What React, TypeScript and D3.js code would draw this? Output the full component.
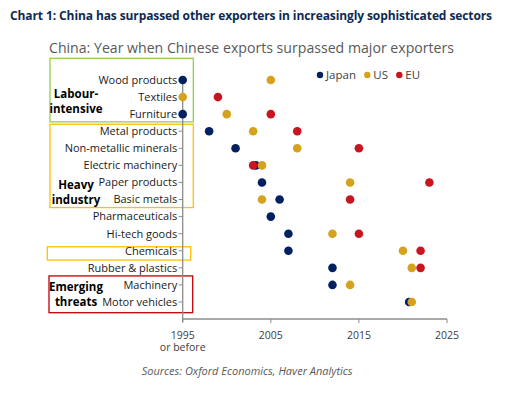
import React from "react";
import * as d3 from "d3";

const categories = [
  "Wood products",
  "Textiles",
  "Furniture",
  "Metal products",
  "Non-metallic minerals",
  "Electric machinery",
  "Paper products",
  "Basic metals",
  "Pharmaceuticals",
  "Hi-tech goods",
  "Chemicals",
  "Rubber & plastics",
  "Machinery",
  "Motor vehicles",
];

// year China overtook each exporter (null = not yet)
const japan = [1995, null, 1995, 1998, 2001, 2003.3, 2004, 2006, 2005, 2007, 2007, 2012, 2012, 2020.7];
const us = [2005, 1995, 2000, 2003, 2008, 2004, 2014, 2004, null, 2012, 2020, 2021, 2014, 2021];
const eu = [null, 1999, 2005, 2008, 2015, 2003, 2023, 2014, null, 2015, 2022, 2022, null, null];

const seriesNames = ["Japan", "US", "EU"];
const seriesValues = [japan, us, eu];
const seriesColors = ["#002060", "#D6A21E", "#C8151F"];

const yearTicks = [1995, 2005, 2015, 2025];

const W = 506;
const H = 393;
const FONT = "'Open Sans', 'Noto Sans', sans-serif";

// boxes around sector groups
const boxes = [
  { from: "Wood products", to: "Furniture", x0: 50, x1: 193.3, padTop: 21.7, padBottom: 7.7, color: "#92D050", label: ["Labour-", "intensive"], labelY: [97.5, 112.5] },
  { from: "Metal products", to: "Basic metals", x0: 50, x1: 193.3, padTop: 7, padBottom: 8, color: "#FFC000", label: ["Heavy", "industry"], labelY: [188.5, 203.5] },
  { from: "Chemicals", to: "Chemicals", x0: 47.3, x1: 190.7, padTop: 4, padBottom: 9.3, color: "#FFC000", label: [], labelY: [] },
  { from: "Machinery", to: "Motor vehicles", x0: 49, x1: 192.7, padTop: 9, padBottom: 10.7, color: "#C00000", label: ["Emerging", "threats"], labelY: [290.5, 305.5] },
];

const App = () => {
  const x = d3.scaleLinear().domain([1995, 2025]).range([182.7, 447]);
  const y = d3.scalePoint<string>().domain(categories).range([80, 302]);
  const axisY = 319;

  return (
    <svg
      width={W}
      height={H}
      style={{ position: "absolute", left: 0, top: 0, background: "#fff" }}
      fontFamily={FONT}
    >
      <text x={10} y={20} fontSize={12} fontWeight={700} fill="#0E2A52" letterSpacing={-0.1}>
        Chart 1: China has surpassed other exporters in increasingly sophisticated sectors
      </text>
      <text x={49} y={52.5} fontSize={14.5} fill="#595959" textLength={405} lengthAdjust="spacingAndGlyphs">
        China: Year when Chinese exports surpassed major exporters
      </text>

      {/* group boxes */}
      {boxes.map((b, i) => (
        <g key={i}>
          <rect
            x={b.x0}
            y={(y(b.from) as number) - b.padTop}
            width={b.x1 - b.x0}
            height={(y(b.to) as number) + b.padBottom - ((y(b.from) as number) - b.padTop)}
            fill="none"
            stroke={b.color}
            strokeWidth={1.3}
          />
          {b.label.map((t, j) => (
            <text key={j} x={76} y={b.labelY[j]} fontSize={11.5} fontWeight={700} textAnchor="middle" fill="#000">
              {t}
            </text>
          ))}
        </g>
      ))}

      {/* y axis */}
      <line x1={x(1995)} x2={x(1995)} y1={y(categories[0])} y2={axisY + 3} stroke="#8C8C8C" strokeWidth={1.3} />
      {categories.map((c) => (
        <g key={c} transform={`translate(0,${y(c)})`}>
          <line x1={x(1995) - 4} x2={x(1995)} stroke="#8C8C8C" strokeWidth={1} />
          <text x={x(1995) - 5.5} dy="0.35em" fontSize={11} textAnchor="end" fill="#1a1a1a">
            {c}
          </text>
        </g>
      ))}

      {/* x axis */}
      <line x1={x(1995)} x2={x(2025)} y1={axisY} y2={axisY} stroke="#8C8C8C" strokeWidth={1.3} />
      {yearTicks.map((t) => (
        <g key={t} transform={`translate(${x(t)},0)`}>
          <line y1={axisY} y2={axisY + 4} stroke="#8C8C8C" strokeWidth={1} />
          <text y={338.5} fontSize={10.5} textAnchor="middle" fill="#404040">
            {t}
          </text>
          {t === 1995 && (
            <text y={351} fontSize={10.5} textAnchor="middle" fill="#404040">
              or before
            </text>
          )}
        </g>
      ))}

      {/* dots */}
      {seriesValues.map((vals, si) => (
        <g key={si}>
          {vals.map((v, i) =>
            v == null ? null : (
              <circle key={i} cx={x(v)} cy={y(categories[i])} r={4.3} fill={seriesColors[si]} />
            )
          )}
        </g>
      ))}

      {/* legend */}
      {seriesNames.map((n, i) => {
        const lx = [320, 367.3, 399.3][i];
        return (
          <g key={n} transform={`translate(${lx},75)`}>
            <circle r={3.2} fill={seriesColors[i]} />
            <text x={6} dy="0.35em" fontSize={11.5} fill="#404040">
              {n}
            </text>
          </g>
        );
      })}

      <text x={141.7} y={375} fontSize={11} fontStyle="italic" fill="#595959">
        Sources: Oxford Economics, Haver Analytics
      </text>
    </svg>
  );
};

export default App;
